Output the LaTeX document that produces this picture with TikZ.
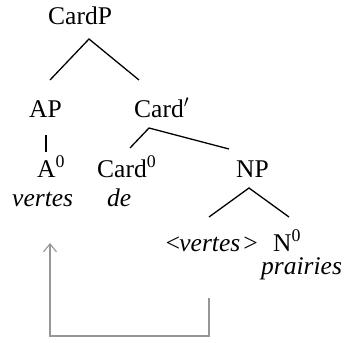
\documentclass[tikz,border=0pt]{standalone}
\usepackage{fontspec}
\setmainfont{Liberation Serif}
\usetikzlibrary{arrows.meta}
\begin{document}
\begin{tikzpicture}[x=1pt,y=-1pt,
  lbl/.style={anchor=base west,inner sep=0pt,font=\fontsize{25.5}{30}\selectfont},
  branch/.style={line width=1.3pt,black},
  movearrow/.style={line width=1.1pt,draw={rgb,255:red,150;green,150;blue,150},-{Straight Barb[length=8pt,width=13pt,line width=1.1pt]}}]
\useasboundingbox (0,0) rectangle (349,343);
% labels
\node[lbl] (CardP) at (48,24) {CardP};
\node[lbl] (AP) at (29,117) {AP};
\node[lbl] (Cardbar) at (134,117) {Card$'$};
\node[lbl] (A0) at (37,177) {A\textsuperscript{0}};
\node[lbl] (Card0) at (97,177) {Card\textsuperscript{0}};
\node[lbl] (NP) at (236,177) {NP};
\node[lbl] (vertesA) at (12,206) {\itshape vertes};
\node[lbl] (de) at (107,206) {\itshape de};
\node[lbl] (trace) at (164,251) {\itshape <\kern-2pt vertes\kern1.5pt>};
\node[lbl] (N0) at (273,251) {N\textsuperscript{0}};
\node[lbl] (prairies) at (261,274) {\itshape prairies};
% branch points
\coordinate (cpTop) at (89,39);
\coordinate (cpL) at (50,80);
\coordinate (cpR) at (139,80);
\coordinate (apTop) at (46,135);
\coordinate (apBot) at (46,152);
\coordinate (cbTop) at (149,128);
\coordinate (cbL) at (130,148);
\coordinate (cbR) at (229,149);
\coordinate (npTop) at (249,188);
\coordinate (npL) at (209,217);
\coordinate (npR) at (289,217);
\draw[branch] (cpL) -- (cpTop) -- (cpR);
\draw[branch] (apTop) -- (apBot);
\draw[branch] (cbL) -- (cbTop) -- (cbR);
\draw[branch] (npL) -- (npTop) -- (npR);
% movement arrow
\coordinate (mvStart) at (209,298);
\coordinate (mvEnd) at (50,243);
\draw[movearrow] (mvStart) -- (209,336) -- (50,336) -- (mvEnd);
\end{tikzpicture}
\end{document}
